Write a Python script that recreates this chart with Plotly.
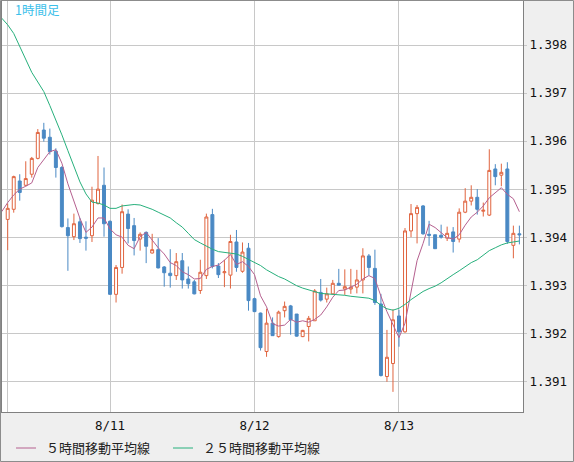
import pandas as pd
import plotly.graph_objects as go

# 1時間足, 8/10 07:00 - 8/13 20:00
times = pd.date_range("2015-08-10 07:00", periods=86, freq="h")
ma_times = pd.date_range("2015-08-10 06:00", periods=87, freq="h")

opens = [1.39437, 1.39458, 1.39517, 1.39508, 1.39531, 1.39564, 1.39623, 1.39608, 1.39579, 1.39545,
         1.39420, 1.39401, 1.39432, 1.39400, 1.39403, 1.39470, 1.39508, 1.39433, 1.39281, 1.39337,
         1.39448, 1.39424, 1.39396, 1.39410, 1.39367, 1.39374, 1.39338, 1.39325, 1.39320, 1.39351,
         1.39313, 1.39307, 1.39289, 1.39320, 1.39447, 1.39340, 1.39326, 1.39321, 1.39390, 1.39329,
         1.39377, 1.39272, 1.39242, 1.39162, 1.39221, 1.39193, 1.39247, 1.39257, 1.39240, 1.39193,
         1.39214, 1.39226, 1.39285, 1.39271, 1.39282, 1.39304, 1.39292, 1.39292, 1.39296, 1.39311,
         1.39361, 1.39335, 1.39261, 1.39110, 1.39137, 1.39236, 1.39203, 1.39413, 1.39449, 1.39465,
         1.39406, 1.39405, 1.39404, 1.39398, 1.39411, 1.39396, 1.39452, 1.39475, 1.39483, 1.39454,
         1.39446, 1.39542, 1.39529, 1.39542, 1.39383, 1.39407]
highs = [1.39470, 1.39528, 1.39531, 1.39558, 1.39567, 1.39625, 1.39638, 1.39626, 1.39585, 1.39548,
         1.39439, 1.39449, 1.39440, 1.39433, 1.39505, 1.39569, 1.39545, 1.39435, 1.39342, 1.39468,
         1.39458, 1.39440, 1.39410, 1.39412, 1.39407, 1.39398, 1.39340, 1.39375, 1.39367, 1.39367,
         1.39339, 1.39311, 1.39353, 1.39449, 1.39459, 1.39346, 1.39353, 1.39405, 1.39415, 1.39389,
         1.39388, 1.39274, 1.39243, 1.39251, 1.39233, 1.39247, 1.39266, 1.39259, 1.39240, 1.39207,
         1.39236, 1.39292, 1.39313, 1.39295, 1.39311, 1.39334, 1.39333, 1.39334, 1.39332, 1.39377,
         1.39365, 1.39374, 1.39282, 1.39207, 1.39250, 1.39249, 1.39419, 1.39469, 1.39467, 1.39467,
         1.39434, 1.39405, 1.39426, 1.39422, 1.39421, 1.39460, 1.39502, 1.39508, 1.39500, 1.39472,
         1.39583, 1.39552, 1.39553, 1.39556, 1.39424, 1.39424]
lows = [1.39373, 1.39451, 1.39476, 1.39506, 1.39524, 1.39562, 1.39599, 1.39572, 1.39524, 1.39420,
        1.39330, 1.39394, 1.39388, 1.39372, 1.39390, 1.39468, 1.39401, 1.39280, 1.39264, 1.39324,
        1.39387, 1.39362, 1.39372, 1.39346, 1.39366, 1.39335, 1.39297, 1.39295, 1.39311, 1.39293,
        1.39293, 1.39281, 1.39282, 1.39313, 1.39335, 1.39315, 1.39296, 1.39293, 1.39328, 1.39326,
        1.39247, 1.39245, 1.39164, 1.39151, 1.39195, 1.39191, 1.39233, 1.39197, 1.39193, 1.39192,
        1.39183, 1.39226, 1.39266, 1.39264, 1.39281, 1.39300, 1.39280, 1.39282, 1.39283, 1.39283,
        1.39320, 1.39259, 1.39110, 1.39099, 1.39078, 1.39172, 1.39201, 1.39400, 1.39387, 1.39405,
        1.39382, 1.39376, 1.39397, 1.39392, 1.39368, 1.39389, 1.39450, 1.39466, 1.39447, 1.39443,
        1.39444, 1.39508, 1.39506, 1.39386, 1.39356, 1.39385]
closes = [1.39460, 1.39526, 1.39493, 1.39522, 1.39564, 1.39618, 1.39606, 1.39578, 1.39545, 1.39422,
          1.39403, 1.39428, 1.39397, 1.39398, 1.39477, 1.39500, 1.39428, 1.39281, 1.39337, 1.39453,
          1.39418, 1.39393, 1.39406, 1.39381, 1.39374, 1.39336, 1.39326, 1.39320, 1.39349, 1.39311,
          1.39303, 1.39282, 1.39327, 1.39442, 1.39339, 1.39322, 1.39328, 1.39391, 1.39337, 1.39369,
          1.39268, 1.39245, 1.39170, 1.39221, 1.39195, 1.39244, 1.39256, 1.39228, 1.39194, 1.39206,
          1.39231, 1.39288, 1.39269, 1.39282, 1.39304, 1.39300, 1.39297, 1.39296, 1.39311, 1.39361,
          1.39337, 1.39264, 1.39112, 1.39150, 1.39228, 1.39203, 1.39413, 1.39449, 1.39462, 1.39407,
          1.39404, 1.39376, 1.39400, 1.39408, 1.39391, 1.39452, 1.39475, 1.39483, 1.39458, 1.39456,
          1.39539, 1.39526, 1.39535, 1.39391, 1.39408, 1.39405]

ma5 = [1.39453, 1.39472, 1.39488, 1.39500, 1.39506, 1.39513, 1.39545, 1.39561, 1.39578, 1.39582,
       1.39554, 1.39511, 1.39475, 1.39439, 1.39410, 1.39421, 1.39440, 1.39440, 1.39417, 1.39405,
       1.39400, 1.39383, 1.39376, 1.39401, 1.39410, 1.39394, 1.39378, 1.39365, 1.39347, 1.39341,
       1.39328, 1.39322, 1.39313, 1.39314, 1.39333, 1.39339, 1.39342, 1.39352, 1.39364, 1.39343,
       1.39349, 1.39339, 1.39322, 1.39278, 1.39255, 1.39220, 1.39215, 1.39217, 1.39229, 1.39223,
       1.39226, 1.39223, 1.39229, 1.39238, 1.39255, 1.39275, 1.39289, 1.39290, 1.39296, 1.39302,
       1.39313, 1.39320, 1.39314, 1.39277, 1.39245, 1.39218, 1.39191, 1.39221, 1.39289, 1.39351,
       1.39387, 1.39427, 1.39420, 1.39410, 1.39399, 1.39396, 1.39405, 1.39425, 1.39442, 1.39452,
       1.39465, 1.39482, 1.39492, 1.39503, 1.39489, 1.39480, 1.39453]
ma25 = [1.39856, 1.39842, 1.39824, 1.39797, 1.39770, 1.39743, 1.39723, 1.39703, 1.39674, 1.39645,
        1.39613, 1.39580, 1.39548, 1.39515, 1.39490, 1.39473, 1.39471, 1.39467, 1.39460, 1.39460,
        1.39465, 1.39467, 1.39468, 1.39467, 1.39463, 1.39458, 1.39452, 1.39446, 1.39440, 1.39430,
        1.39421, 1.39408, 1.39395, 1.39388, 1.39381, 1.39375, 1.39370, 1.39368, 1.39367, 1.39365,
        1.39360, 1.39354, 1.39348, 1.39341, 1.39332, 1.39325, 1.39318, 1.39313, 1.39306, 1.39299,
        1.39294, 1.39290, 1.39287, 1.39283, 1.39282, 1.39281, 1.39281, 1.39279, 1.39277, 1.39276,
        1.39274, 1.39273, 1.39268, 1.39258, 1.39251, 1.39248, 1.39252, 1.39260, 1.39270, 1.39279,
        1.39287, 1.39293, 1.39298, 1.39305, 1.39314, 1.39322, 1.39330, 1.39339, 1.39347, 1.39353,
        1.39362, 1.39372, 1.39378, 1.39384, 1.39388, 1.39390, 1.39392]

x_ticks = ["2015-08-10 07:00", "2015-08-11 00:00", "2015-08-12 00:00", "2015-08-13 00:00"]
x_labels = ["", "8/11", "8/12", "8/13"]
y_ticks = [1.391, 1.392, 1.393, 1.394, 1.395, 1.396, 1.397, 1.398]

up_color = "#e0643f"
down_color = "#4a89c4"
ma5_color = "#b5608f"
ma25_color = "#27b07c"

W, H = 574, 462
ML, MR, MT, MB = 2, 51, 1, 50


def px(x):
    return (x - ML) / (W - ML - MR)


def py(y):
    return (H - MB - y) / (H - MT - MB)


fig = go.Figure()
fig.add_trace(go.Candlestick(
    x=times, open=opens, high=highs, low=lows, close=closes,
    increasing=dict(line=dict(color=up_color, width=1), fillcolor="white"),
    decreasing=dict(line=dict(color=down_color, width=1), fillcolor=down_color),
    showlegend=False, hoverinfo="skip",
))
fig.add_trace(go.Scatter(x=ma_times, y=ma5, mode="lines",
                         line=dict(color=ma5_color, width=1), showlegend=False))
fig.add_trace(go.Scatter(x=ma_times, y=ma25, mode="lines",
                         line=dict(color=ma25_color, width=1), showlegend=False))

axis_font = dict(family="DejaVu Sans Mono", size=12.5, color="#111111")

fig.update_layout(
    width=W, height=H,
    margin=dict(l=ML, r=MR, t=MT, b=MB),
    paper_bgcolor="#efefef",
    plot_bgcolor="white",
    xaxis=dict(
        type="date",
        range=["2015-08-10 06:03:11", "2015-08-13 20:36:00"],
        tickvals=x_ticks, ticktext=x_labels,
        showgrid=True, gridcolor="#c8c8c8", gridwidth=1,
        showline=True, linecolor="#808080", linewidth=1, mirror=True,
        ticks="", ticklabelstandoff=2,
        tickfont=axis_font,
        rangeslider=dict(visible=False),
        zeroline=False,
    ),
    yaxis=dict(
        side="right",
        range=[1.390361, 1.398916],
        tickvals=y_ticks, tickformat=".3f",
        showgrid=True, gridcolor="#c8c8c8", gridwidth=1,
        showline=True, linecolor="#808080", linewidth=1, mirror=True,
        ticks="outside", ticklen=3, tickcolor="#c8c8c8",
        tickfont=axis_font,
        zeroline=False,
    ),
    showlegend=False,
    shapes=[
        # outer frame
        dict(type="rect", xref="paper", yref="paper",
             x0=px(0.5), x1=px(W - 0.5), y0=py(H - 0.5), y1=py(0.5),
             line=dict(color="#8c8c8c", width=1), layer="above"),
        dict(type="line", xref="paper", yref="paper",
             x0=px(16), x1=px(36), y0=py(448), y1=py(448),
             line=dict(color=ma5_color, width=1)),
        dict(type="line", xref="paper", yref="paper",
             x0=px(173), x1=px(193), y0=py(448), y1=py(448),
             line=dict(color=ma25_color, width=1)),
    ],
    annotations=[
        dict(text="1時間足", xref="paper", yref="paper", x=px(13), y=py(10),
             xanchor="left", yanchor="middle", showarrow=False,
             font=dict(family="Noto Sans CJK JP", size=12.5, color="#3cc0ea")),
        dict(text="５時間移動平均線", xref="paper", yref="paper", x=px(44), y=py(447),
             xanchor="left", yanchor="middle", showarrow=False,
             font=dict(family="Noto Sans CJK JP", size=13, color="#222222")),
        dict(text="２５時間移動平均線", xref="paper", yref="paper", x=px(201), y=py(447),
             xanchor="left", yanchor="middle", showarrow=False,
             font=dict(family="Noto Sans CJK JP", size=13, color="#222222")),
    ],
)

fig.write_html(
    "out.html",
    config={"displayModeBar": False},
    post_script="document.body.style.margin='0';document.body.style.overflow='hidden';",
)
